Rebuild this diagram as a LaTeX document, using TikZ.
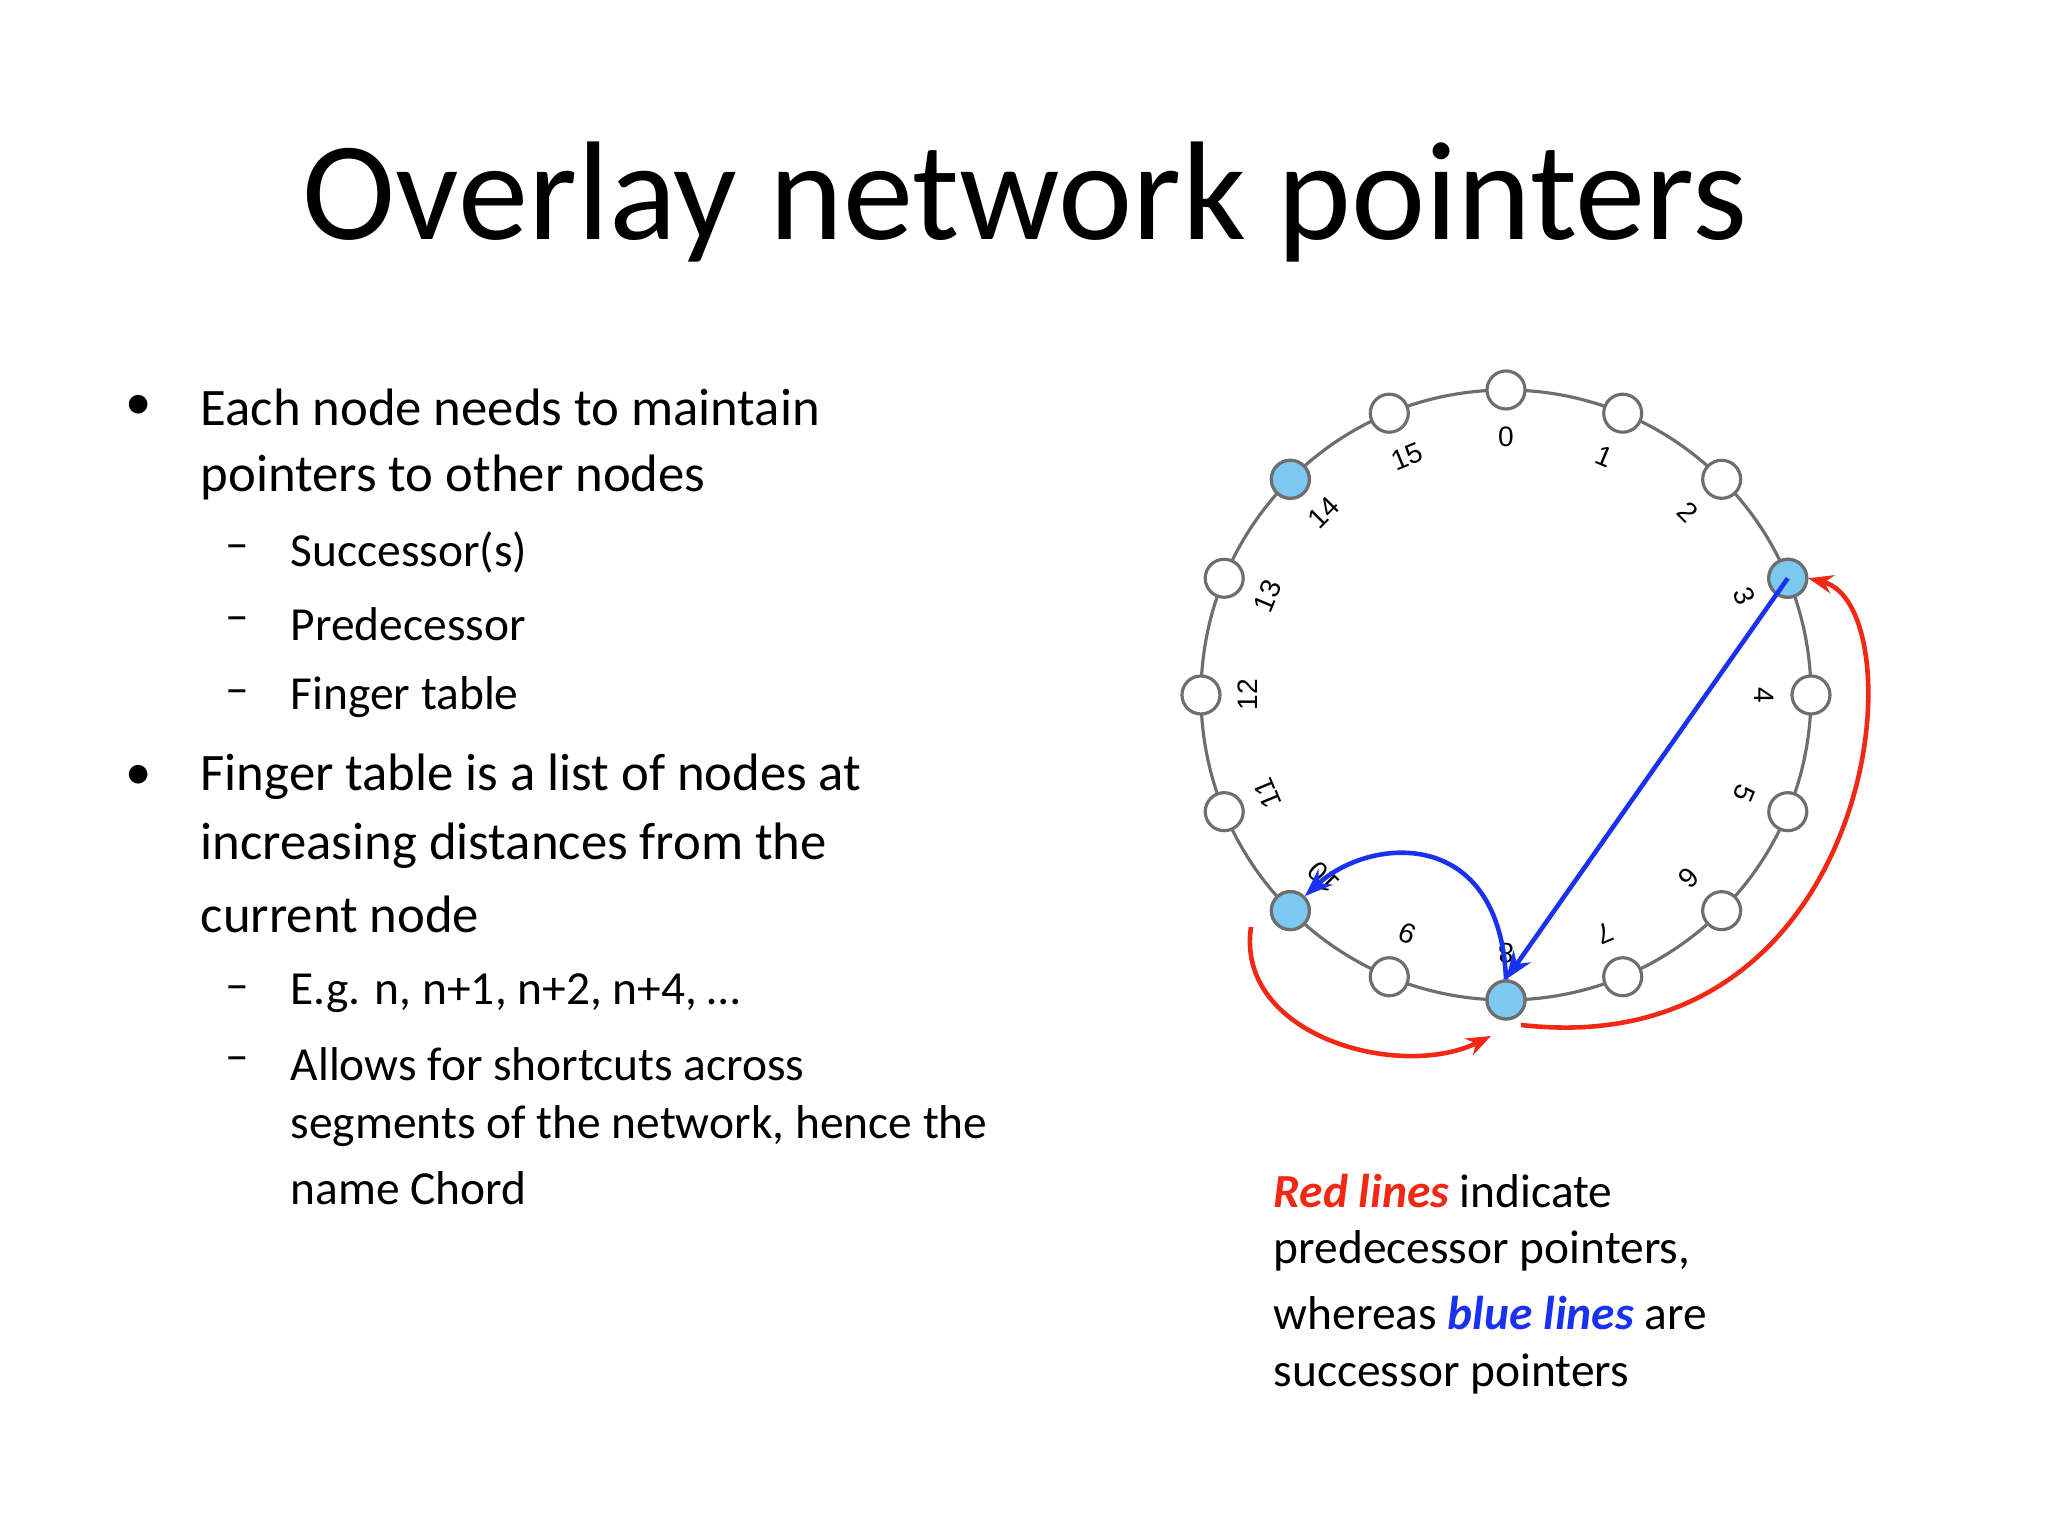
\documentclass[tikz,border=0pt]{standalone}
\usepackage{fontspec}
\setmainfont{Carlito}
\newfontfamily\lab{Liberation Sans}
\usetikzlibrary{arrows.meta,calc}
\definecolor{nodeblue}{RGB}{125,200,240}
\definecolor{ringgray}{RGB}{110,110,110}
\definecolor{redl}{RGB}{240,40,20}
\definecolor{bluel}{RGB}{25,50,240}
\tikzset{
 ringnode/.style={circle,draw=ringgray,line width=0.9pt,fill=white,minimum size=0.38cm,inner sep=0pt},
 hl/.style={fill=nodeblue},
 main/.style={anchor=west,font=\fontsize{15}{18}\selectfont,inner sep=0pt},
 sub/.style={anchor=west,font=\fontsize{13.5}{16}\selectfont,inner sep=0pt},
 lbl/.style={font=\lab\fontsize{8}{9}\selectfont,inner sep=0pt},
 redarr/.style={draw=redl,line width=1.3pt,-{Stealth[length=7pt]}},
 bluearr/.style={draw=bluel,line width=1.3pt,-{Stealth[length=8pt]}}
}
\begin{document}
\begin{tikzpicture}
\useasboundingbox[fill=white] (0,0) rectangle (20.48,15.36);
\node[font=\fontsize{40}{46}\selectfont] (title) at (10.25,13.34) {Overlay network pointers};
\node[main] (b1) at (1.25,11.29) {•};
\node[main] (t1a) at (2.00,11.29) {Each node needs to maintain};
\node[main] (t1b) at (2.00,10.59) {pointers to other nodes};
\node[sub] (d1) at (2.25,9.84) {–};
\node[sub] (s1) at (2.90,9.84) {Successor(s)};
\node[sub] (d2) at (2.25,9.12) {–};
\node[sub] (s2) at (2.90,9.12) {Predecessor};
\node[sub] (d3) at (2.25,8.39) {–};
\node[sub] (s3) at (2.90,8.39) {Finger table};
\node[main] (b2) at (1.25,7.59) {•};
\node[main] (t2a) at (2.00,7.59) {Finger table is a list of nodes at};
\node[main] (t2b) at (2.00,6.90) {increasing distances from the};
\node[main] (t2c) at (2.00,6.22) {current node};
\node[sub] (d4) at (2.25,5.43) {–};
\node[sub] (s4) at (2.90,5.43) {E.g. n, n+1, n+2, n+4, …};
\node[sub] (d5) at (2.25,4.72) {–};
\node[sub] (s5a) at (2.90,4.72) {Allows for shortcuts across};
\node[sub] (s5b) at (2.90,4.10) {segments of the network, hence the};
\node[sub] (s5c) at (2.90,3.48) {name Chord};
% ring
\coordinate (c) at (15.06,8.41);
\draw[ringgray,line width=0.9pt] (c) circle (3.05);
\foreach \k in {0,...,15}{
  \pgfmathsetmacro\ang{90-22.5*\k}
  \node[ringnode] (n\k) at ($(c)+(\ang:3.05)$) {};
  \node[lbl,rotate=-22.5*\k] (l\k) at ($(c)+(\ang:2.58)$) {\k};
}
\foreach \k in {3,8,10,14}{\node[ringnode,hl] at (n\k) {};}
% arrows
\draw[bluearr] (n3.center) -- (n8.north);
\draw[bluearr] (n8.north) .. controls (15.0,7.1) and (13.7,7.0) .. (n10.north east);
\coordinate (r1s) at (15.21,5.11);
\draw[redarr] (r1s) .. controls (18.8,4.7) and (19.2,9.3) .. (n3.east);
\coordinate (r2s) at (12.51,6.09);
\coordinate (r2e) at (14.91,5.00);
\draw[redarr] (r2s) .. controls (12.35,5.0) and (14.0,4.55) .. (r2e);
% legend
\node[sub] (g1) at (12.73,3.45) {\textcolor{redl}{\textbf{\textit{Red lines}}} indicate};
\node[sub] (g2) at (12.73,2.85) {predecessor pointers,};
\node[sub] (g3) at (12.73,2.23) {whereas \textcolor{bluel}{\textbf{\textit{blue lines}}} are};
\node[sub] (g4) at (12.73,1.62) {successor pointers};
\end{tikzpicture}
\end{document}
